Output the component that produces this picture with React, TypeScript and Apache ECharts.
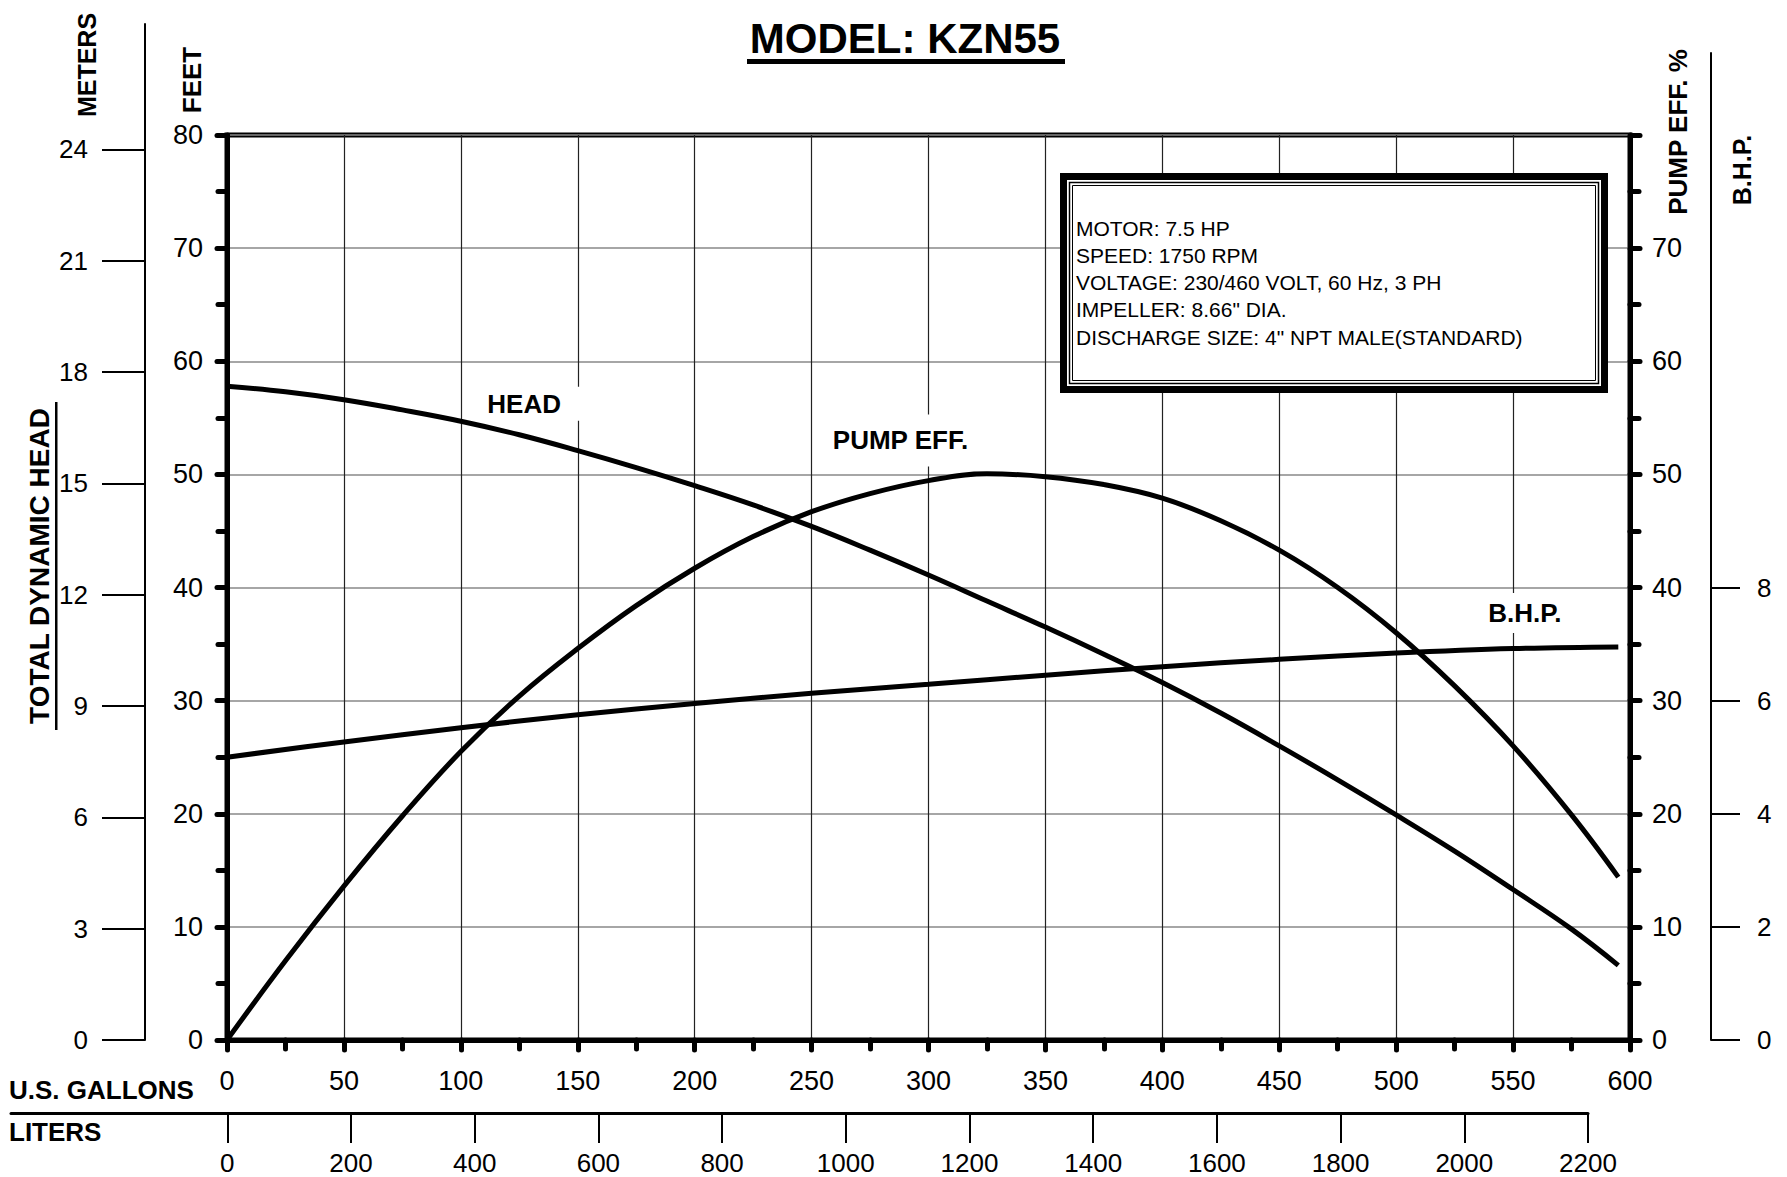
import React, { useEffect, useRef } from "react";
import * as echarts from "echarts";

// ---- data ----
const GALLONS = [0, 25, 50, 75, 100, 125, 150, 175, 200, 225, 250, 275, 300, 325, 350, 375, 400, 425, 450, 475, 500, 525, 550, 575, 595];
const HEAD_FT = [57.8, 57.3, 56.6, 55.7, 54.7, 53.5, 52.1, 50.6, 49.0, 47.3, 45.4, 43.3, 41.1, 38.8, 36.5, 34.1, 31.6, 28.9, 26.0, 23.0, 19.9, 16.7, 13.3, 9.8, 6.6];
const EFF_PCT = [0, 7.0, 13.6, 19.8, 25.5, 30.4, 34.6, 38.4, 41.7, 44.5, 46.7, 48.3, 49.45, 50.05, 49.8, 49.1, 47.9, 45.9, 43.3, 40.0, 36.0, 31.3, 26.0, 19.9, 14.4];
const BHP_GAL = [0, 50, 100, 150, 200, 250, 300, 350, 400, 450, 500, 550, 595];
const BHP = [5.0, 5.27, 5.52, 5.75, 5.95, 6.13, 6.29, 6.45, 6.6, 6.73, 6.84, 6.92, 6.95];
const METERS_TICKS = [0, 3, 6, 9, 12, 15, 18, 21, 24];
const BHP_TICKS = [0, 2, 4, 6, 8];
const LITERS_TICKS = [0, 200, 400, 600, 800, 1000, 1200, 1400, 1600, 1800, 2000, 2200];
const INFO_LINES = [
  "MOTOR: 7.5 HP",
  "SPEED: 1750 RPM",
  "VOLTAGE: 230/460 VOLT, 60 Hz, 3 PH",
  "IMPELLER: 8.66\" DIA.",
  "DISCHARGE SIZE: 4\" NPT MALE(STANDARD)",
];

// ---- layout ----
const FONT = '"Liberation Sans", Arial, sans-serif';
const PL = 227, PT = 135, PW = 1403, PH = 905;
const PX_PER_FT = PH / 80;
const PX_PER_GAL = PW / 600;
const M_TOP = 24;
const B_TOP = 53;
const L_LEFT = 11;

export default function App() {
  const ref = useRef<HTMLDivElement>(null);
  useEffect(() => {
    document.body.style.margin = "0";
    const chart = echarts.init(ref.current!, null, { renderer: "svg" });
    const metersMax = (PT + PH - M_TOP) / (PX_PER_FT * 3.28084);
    const bhpMax = (PT + PH - B_TOP) / (PX_PER_FT * 5);
    const litersMin = (-(PL - L_LEFT) / PX_PER_GAL) * 3.78541;
    const txt = (size: number, bold = true) => ({
      fontSize: size,
      fontWeight: bold ? "bold" : "normal",
      fontFamily: FONT,
      fill: "#000",
    });
    const blackTick = (len: number, w: number) => ({ show: true, length: len, lineStyle: { color: "#000", width: w, cap: "round" } });
    const minor = { show: true, splitNumber: 2, length: 9, lineStyle: { color: "#000", width: 5, cap: "round" } };
    const lbl = (size: number, margin: number, extra: any = {}) => ({
      fontSize: size, fontFamily: FONT, color: "#000", margin, formatter: (v: number) => String(v), ...extra,
    });
    const mpLabel = (text: string, padding: number[]) => ({
      show: true, position: "inside", formatter: text, color: "#000", fontWeight: "bold", fontSize: 26,
      fontFamily: FONT, backgroundColor: "#fff", padding,
    });
    const mpBase = { silent: true, symbol: "circle", symbolSize: 1, itemStyle: { color: "transparent" } };
    const option: any = {
      animation: false,
      backgroundColor: "#fff",
      grid: [
        { left: PL, top: PT, width: PW, height: PH, show: true, borderColor: "#000", borderWidth: 5, backgroundColor: "transparent" },
        { left: 145, top: M_TOP, width: 1, height: PT + PH - M_TOP },
        { left: 1711, top: B_TOP, width: 1, height: PT + PH - B_TOP },
        { left: L_LEFT, top: 1112, width: 1577, height: 1 },
      ],
      xAxis: [
        {
          gridIndex: 0, type: "value", min: 0, max: 600, interval: 50,
          axisLine: { lineStyle: { color: "#000", width: 5 } },
          axisTick: blackTick(10, 5),
          minorTick: minor,
          axisLabel: lbl(27, 27),
          splitLine: { show: true, lineStyle: { color: "#222", width: 1.2 } },
        },
        { gridIndex: 1, type: "value", show: false },
        { gridIndex: 2, type: "value", show: false },
        {
          gridIndex: 3, type: "value", min: litersMin, max: 2200,
          axisLine: { lineStyle: { color: "#000", width: 3 } },
          axisTick: { show: true, customValues: LITERS_TICKS, length: 30, lineStyle: { color: "#000", width: 2 } },
          axisLabel: lbl(26, 37, { customValues: LITERS_TICKS }),
          splitLine: { show: false },
        },
      ],
      yAxis: [
        {
          gridIndex: 0, type: "value", min: 0, max: 80, interval: 10, position: "left",
          axisLine: { show: true, lineStyle: { color: "#000", width: 5 } },
          axisTick: blackTick(10, 5),
          minorTick: minor,
          axisLabel: lbl(27, 24),
          splitLine: { show: true, lineStyle: { color: "#888", width: 1.5 } },
        },
        {
          gridIndex: 0, type: "value", min: 0, max: 80, interval: 10, position: "right",
          axisLine: { show: true, lineStyle: { color: "#000", width: 5 } },
          axisTick: blackTick(10, 5),
          minorTick: minor,
          axisLabel: lbl(27, 22, { formatter: (v: number) => (v === 80 ? "" : String(v)) }),
          splitLine: { show: false },
        },
        { gridIndex: 0, type: "value", min: 0, max: 16, show: false },
        {
          gridIndex: 1, type: "value", min: 0, max: metersMax, position: "left",
          axisLine: { show: true, lineStyle: { color: "#000", width: 2 } },
          axisTick: { show: true, customValues: METERS_TICKS, length: 43, lineStyle: { color: "#000", width: 2 } },
          axisLabel: lbl(26, 57, { customValues: METERS_TICKS }),
          splitLine: { show: false },
        },
        {
          gridIndex: 2, type: "value", min: 0, max: bhpMax, position: "right",
          axisLine: { show: true, lineStyle: { color: "#000", width: 2 } },
          axisTick: { show: true, customValues: BHP_TICKS, length: 29, lineStyle: { color: "#000", width: 2 } },
          axisLabel: lbl(26, 45, { customValues: BHP_TICKS }),
          splitLine: { show: false },
        },
        { gridIndex: 3, type: "value", show: false },
      ],
      series: [
        {
          name: "HEAD", type: "line", xAxisIndex: 0, yAxisIndex: 0, smooth: 0.4, symbol: "none",
          lineStyle: { color: "#000", width: 5 },
          data: GALLONS.map((g, i) => [g, HEAD_FT[i]]),
          markPoint: { ...mpBase, label: mpLabel("HEAD", [6, 20, 2, 4]), data: [{ coord: [130.5, 56.25] }] },
        },
        {
          name: "PUMP EFF.", type: "line", xAxisIndex: 0, yAxisIndex: 1, smooth: 0.4, symbol: "none",
          lineStyle: { color: "#000", width: 5 },
          data: GALLONS.map((g, i) => [g, EFF_PCT[i]]),
          markPoint: { ...mpBase, label: mpLabel("PUMP EFF.", [13, 6]), data: [{ coord: [288, 53.0] }] },
        },
        {
          name: "B.H.P.", type: "line", xAxisIndex: 0, yAxisIndex: 2, smooth: 0.4, symbol: "none",
          lineStyle: { color: "#000", width: 5 },
          data: BHP_GAL.map((g, i) => [g, BHP[i]]),
          markPoint: { ...mpBase, label: mpLabel("B.H.P.", [7, 6]), data: [{ coord: [555, 7.55] }] },
        },
      ],
      graphic: [
        { type: "text", x: 905, y: 38, style: { text: "MODEL: KZN55", ...txt(42), align: "center", verticalAlign: "middle" } },
        { type: "rect", shape: { x: 747, y: 59, width: 318, height: 5 }, style: { fill: "#000" } },
        { type: "text", x: 87, y: 65, rotation: Math.PI / 2, style: { text: "METERS", ...txt(25), align: "center", verticalAlign: "middle" } },
        { type: "text", x: 192, y: 80, rotation: Math.PI / 2, style: { text: "FEET", ...txt(26), align: "center", verticalAlign: "middle" } },
        { type: "text", x: 39, y: 566, rotation: Math.PI / 2, style: { text: "TOTAL DYNAMIC HEAD", ...txt(28), align: "center", verticalAlign: "middle" } },
        { type: "rect", shape: { x: 55, y: 402, width: 2.5, height: 328 }, style: { fill: "#000" } },
        { type: "text", x: 1678, y: 132, rotation: Math.PI / 2, style: { text: "PUMP EFF. %", ...txt(26), align: "center", verticalAlign: "middle" } },
        { type: "text", x: 1742, y: 170, rotation: Math.PI / 2, style: { text: "B.H.P.", ...txt(25), align: "center", verticalAlign: "middle" } },
        { type: "text", x: 9, y: 1090, style: { text: "U.S. GALLONS", ...txt(26), align: "left", verticalAlign: "middle" } },
        { type: "text", x: 9, y: 1132, style: { text: "LITERS", ...txt(26), align: "left", verticalAlign: "middle" } },
        { type: "rect", z: 50, shape: { x: 1063.5, y: 176.5, width: 541, height: 213 }, style: { fill: "#fff", stroke: "#000", lineWidth: 7 } },
        { type: "rect", z: 51, shape: { x: 1069.5, y: 182.5, width: 529, height: 201 }, style: { fill: "none", stroke: "#000", lineWidth: 1.5 } },
        { type: "rect", z: 51, shape: { x: 1072.5, y: 185.5, width: 523, height: 195 }, style: { fill: "none", stroke: "#000", lineWidth: 1 } },
        ...INFO_LINES.map((t, i) => ({
          type: "text", z: 52, x: 1076, y: 228 + i * 27.3,
          style: { text: t, ...txt(21, false), align: "left", verticalAlign: "middle" },
        })),
      ],
    };
    chart.setOption(option);
    return () => chart.dispose();
  }, []);
  return <div ref={ref} style={{ position: "fixed", left: 0, top: 0, width: 1787, height: 1177 }} />;
}
